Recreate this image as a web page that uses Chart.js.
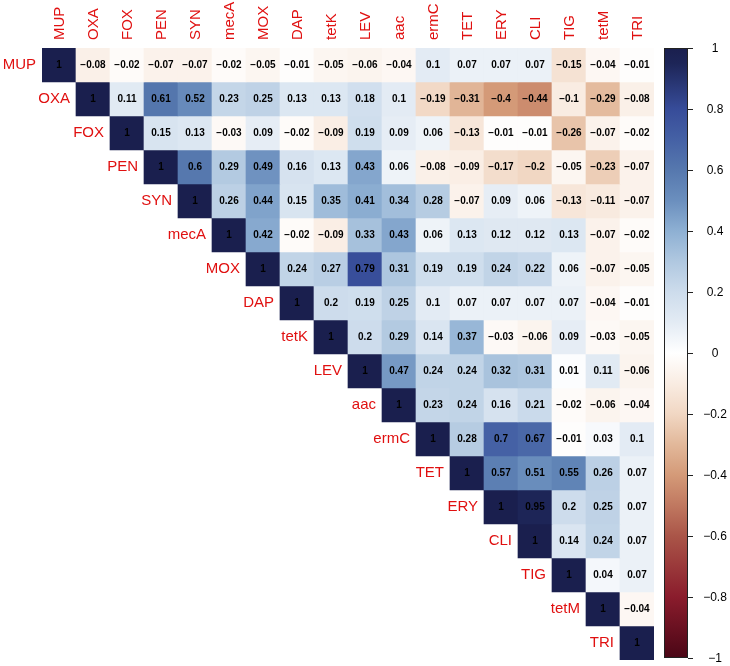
<!DOCTYPE html>
<html>
<head>
<meta charset="utf-8">
<script src="https://cdn.jsdelivr.net/npm/chart.js@4.4.1/dist/chart.umd.min.js"></script>
<style>
  html, body { margin: 0; padding: 0; background: #fff; }
  #wrap { width: 730px; height: 666px; }
</style>
</head>
<body>
<div id="wrap"><canvas id="corr"></canvas></div>
<script>
const genes = ['MUP', 'OXA', 'FOX', 'PEN', 'SYN', 'mecA', 'MOX', 'DAP', 'tetK',
               'LEV', 'aac', 'ermC', 'TET', 'ERY', 'CLI', 'TIG', 'tetM', 'TRI'];

// upper triangle, each row starts at its diagonal
const rMUP  = [1, -0.08, -0.02, -0.07, -0.07, -0.02, -0.05, -0.01, -0.05, -0.06, -0.04, 0.1, 0.07, 0.07, 0.07, -0.15, -0.04, -0.01];
const rOXA  = [1, 0.11, 0.61, 0.52, 0.23, 0.25, 0.13, 0.13, 0.18, 0.1, -0.19, -0.31, -0.4, -0.44, -0.1, -0.29, -0.08];
const rFOX  = [1, 0.15, 0.13, -0.03, 0.09, -0.02, -0.09, 0.19, 0.09, 0.06, -0.13, -0.01, -0.01, -0.26, -0.07, -0.02];
const rPEN  = [1, 0.6, 0.29, 0.49, 0.16, 0.13, 0.43, 0.06, -0.08, -0.09, -0.17, -0.2, -0.05, -0.23, -0.07];
const rSYN  = [1, 0.26, 0.44, 0.15, 0.35, 0.41, 0.34, 0.28, -0.07, 0.09, 0.06, -0.13, -0.11, -0.07];
const rMecA = [1, 0.42, -0.02, -0.09, 0.33, 0.43, 0.06, 0.13, 0.12, 0.12, 0.13, -0.07, -0.02];
const rMOX  = [1, 0.24, 0.27, 0.79, 0.31, 0.19, 0.19, 0.24, 0.22, 0.06, -0.07, -0.05];
const rDAP  = [1, 0.2, 0.19, 0.25, 0.1, 0.07, 0.07, 0.07, 0.07, -0.04, -0.01];
const rTetK = [1, 0.2, 0.29, 0.14, 0.37, -0.03, -0.06, 0.09, -0.03, -0.05];
const rLEV  = [1, 0.47, 0.24, 0.24, 0.32, 0.31, 0.01, 0.11, -0.06];
const rAac  = [1, 0.23, 0.24, 0.16, 0.21, -0.02, -0.06, -0.04];
const rErmC = [1, 0.28, 0.7, 0.67, -0.01, 0.03, 0.1];
const rTET  = [1, 0.57, 0.51, 0.55, 0.26, 0.07];
const rERY  = [1, 0.95, 0.2, 0.25, 0.07];
const rCLI  = [1, 0.14, 0.24, 0.07];
const rTIG  = [1, 0.04, 0.07];
const rTetM = [1, -0.04];
const rTRI  = [1];
const upper = [rMUP, rOXA, rFOX, rPEN, rSYN, rMecA, rMOX, rDAP, rTetK,
               rLEV, rAac, rErmC, rTET, rERY, rCLI, rTIG, rTetM, rTRI];

const colorTicks = [1, 0.8, 0.6, 0.4, 0.2, 0, -0.2, -0.4, -0.6, -0.8, -1];

// colour ramp (value -> colour)
const rampAt  = [-1, -0.8, -0.6, -0.5, -0.4, -0.3, -0.2, -0.1, 0, 0.1, 0.2, 0.3, 0.4, 0.5, 0.6, 0.7, 0.8, 0.95, 1];
const rampCol = ['#4a0616', '#8a1c2c', '#aa5548', '#c07860', '#d49a78', '#e2b89a', '#f1d7c3', '#f9ece2', '#ffffff',
                 '#e3ebf4', '#cddcec', '#b0c8e0', '#8eb0d3', '#6b8fbe', '#5678ae', '#4561a5', '#374c99', '#1d2557', '#1a1f4e'];

const labelRed = '#e01010';
const labelFont = '15px "Liberation Sans", Arial, sans-serif';

function hex2rgb(h) {
  return [1, 3, 5].map(i => parseInt(h.substr(i, 2), 16));
}

function colorFor(v) {
  let k = 0;
  while (k < rampAt.length - 2 && v > rampAt[k + 1]) k++;
  const t = (v - rampAt[k]) / (rampAt[k + 1] - rampAt[k]);
  const a = hex2rgb(rampCol[k]), b = hex2rgb(rampCol[k + 1]);
  const c = a.map((x, i) => Math.round(x + (b[i] - x) * t));
  return 'rgb(' + c.join(',') + ')';
}

function fmt(v) {
  return String(v).replace('-', '\u2212');
}

// one floating-bar dataset per row
const datasets = upper.map((row, i) => ({
  label: genes[i],
  data: genes.map((g, j) => j >= i ? [i, i + 1] : null),
  backgroundColor: genes.map((g, j) => j >= i ? colorFor(row[j - i]) : 'rgba(0,0,0,0)'),
  borderWidth: 0,
  barPercentage: 1,
  categoryPercentage: 1,
  grouped: false
}));

const extras = {
  id: 'extras',
  afterDatasetsDraw(chart) {
    const ctx = chart.ctx;
    const xs = chart.scales.x, ys = chart.scales.y;
    const area = chart.chartArea;
    const half = (xs.getPixelForValue(1) - xs.getPixelForValue(0)) / 2;

    ctx.save();
    ctx.textBaseline = 'middle';

    // cell values
    ctx.font = 'bold 10px "Liberation Sans", Arial, sans-serif';
    ctx.fillStyle = '#000';
    ctx.textAlign = 'center';
    upper.forEach((row, i) => {
      row.forEach((v, k) => {
        const j = i + k;
        ctx.fillText(fmt(v), xs.getPixelForValue(j), ys.getPixelForValue(i + 0.5) + 0.5);
      });
    });

    // row labels left of the diagonal
    ctx.font = labelFont;
    ctx.fillStyle = labelRed;
    ctx.textAlign = 'right';
    genes.forEach((g, i) => {
      ctx.fillText(g, xs.getPixelForValue(i) - half - 6, ys.getPixelForValue(i + 0.5));
    });

    // column labels on top, reading upward
    ctx.textAlign = 'left';
    genes.forEach((g, j) => {
      ctx.save();
      ctx.translate(xs.getPixelForValue(j) + 1, area.top - 8);
      ctx.rotate(-Math.PI / 2);
      ctx.fillText(g, 0, 0);
      ctx.restore();
    });

    // colour bar
    const bx = area.right + 10, bw = 24;
    const top = area.top, bot = area.bottom - 2;
    const grad = ctx.createLinearGradient(0, bot, 0, top);
    rampAt.forEach((a, k) => grad.addColorStop((a + 1) / 2, rampCol[k]));
    ctx.fillStyle = grad;
    ctx.fillRect(bx, top, bw, bot - top);
    ctx.strokeStyle = '#222';
    ctx.lineWidth = 1;
    ctx.strokeRect(bx + 0.5, top + 0.5, bw - 1, bot - top - 1);

    ctx.font = '12px "Liberation Sans", Arial, sans-serif';
    ctx.fillStyle = '#000';
    ctx.textAlign = 'center';
    colorTicks.forEach(t => {
      const y = Math.round(bot - (t + 1) / 2 * (bot - top)) + 0.5;
      ctx.beginPath();
      ctx.moveTo(bx + bw, y);
      ctx.lineTo(bx + bw + 5, y);
      ctx.stroke();
      ctx.fillText(fmt(t), bx + bw + 27, y);
    });
    ctx.restore();
  }
};

new Chart(document.getElementById('corr'), {
  type: 'bar',
  data: { labels: genes, datasets },
  options: {
    responsive: true,
    maintainAspectRatio: false,
    animation: false,
    layout: { padding: { left: 42, right: 76, top: 0, bottom: 6 } },
    plugins: { legend: { display: false }, tooltip: { enabled: false } },
    scales: {
      x: {
        position: 'top',
        grid: { display: false, drawTicks: false },
        border: { display: false },
        ticks: { display: false },
        afterFit(s) { s.height = 48; }
      },
      y: {
        display: false,
        reverse: true,
        min: 0,
        max: 18
      }
    }
  },
  plugins: [extras]
});
</script>
</body>
</html>
